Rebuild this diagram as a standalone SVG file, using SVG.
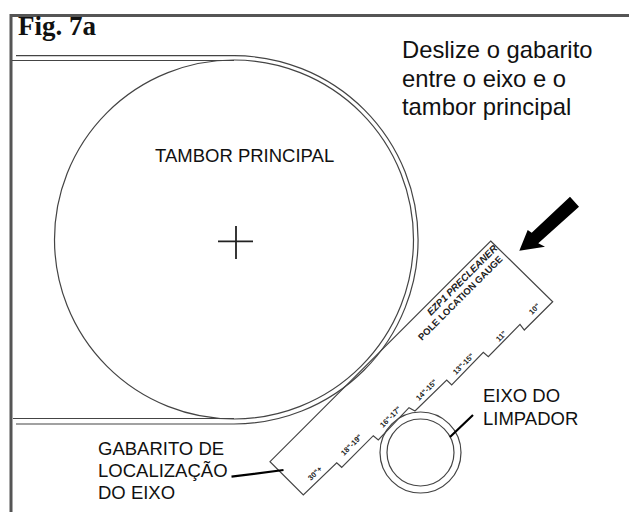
<svg xmlns="http://www.w3.org/2000/svg" width="629" height="512" viewBox="0 0 629 512">
<style>
.l{fill:none;stroke:#444;stroke-width:1.200}
.t{font-family:"Liberation Sans",Arial,sans-serif;fill:#111;font-size:18.500px}
.d{font-family:"Liberation Sans",Arial,sans-serif;fill:#222;font-size:7.500px;font-weight:bold}
.m{fill:none;stroke:#000;stroke-width:2.200}
</style>
<rect width="629" height="512" fill="#fff"/>
<path d="M11 512V15.500H629" fill="none" stroke="#555" stroke-width="3"/>
<text x="18" y="35" font-family="'Liberation Serif',serif" font-weight="bold" font-size="27" fill="#111">Fig. 7a</text>
<g id="instruction" font-family="'Liberation Sans',Arial,sans-serif" font-size="23.800" fill="#111">
<text x="402" y="58">Deslize o gabarito</text>
<text x="402" y="87">entre o eixo e o</text>
<text x="402" y="115">tambor principal</text>
</g>
<g id="drum">
<circle class="l" cx="234" cy="239.500" r="179.500"/>
<path class="l" d="M16 55.700H234A184.150 184.150 0 0 1 234 424H16"/>
<path class="l" d="M12 60.500H234M13 418.500H234"/>
<path d="M236 226V259M218 241.300H253" stroke="#222" stroke-width="1.800" fill="none"/>
<text class="t" x="155" y="162">TAMBOR PRINCIPAL</text>
</g>
<g id="gauge">
<path class="l" d="M490.700 241L552.700 301.700L524.300 330L520 324.300L488.300 356.700L483.300 352.300L451.700 385L446.700 380L415 411L409 407.700L378.300 440L373.300 435.700L341.700 467.300L336.700 462.700L303.300 495L270 461.700Z"/>
<text class="d" transform="translate(431 316) rotate(-45)" style="font-size:9.800px;font-style:italic">EZP1 PRECLEANER</text>
<text class="d" transform="translate(422 341) rotate(-45)" style="font-size:9.500px">POLE LOCATION GAUGE</text>
<text class="d" transform="translate(532 315) rotate(-45)">10"</text>
<text class="d" transform="translate(499 342) rotate(-45)">11"</text>
<text class="d" transform="translate(456 375) rotate(-45)">13"-15"</text>
<text class="d" transform="translate(419 401) rotate(-45)">14"-15"</text>
<text class="d" transform="translate(383 428) rotate(-45)">16"-17"</text>
<text class="d" transform="translate(344 456) rotate(-45)">18"-19"</text>
<text class="d" transform="translate(311 481) rotate(-45)">30"+</text>
</g>
<g id="shaft">
<circle class="l" cx="420.500" cy="452.500" r="40.500"/>
<circle class="l" cx="420.500" cy="452.500" r="33.500"/>
<text class="t" x="483" y="401.700">EIXO DO</text>
<text class="t" x="483" y="425">LIMPADOR</text>
</g>
<g id="gauge-label">
<text class="t" x="98" y="455">GABARITO DE</text>
<text class="t" x="98" y="477.300">LOCALIZAÇÃO</text>
<text class="t" x="98" y="499.300">DO EIXO</text>
</g>
<g id="connectors">
<path class="m" d="M450 437L473 415M283.500 470L231.500 476.700"/>
<path d="M519.300 250.700L527.700 230L531.700 232.700L570 196.700L579 206.700L538.300 243.300L545 246.700Z" fill="#000"/>
</g>
</svg>
